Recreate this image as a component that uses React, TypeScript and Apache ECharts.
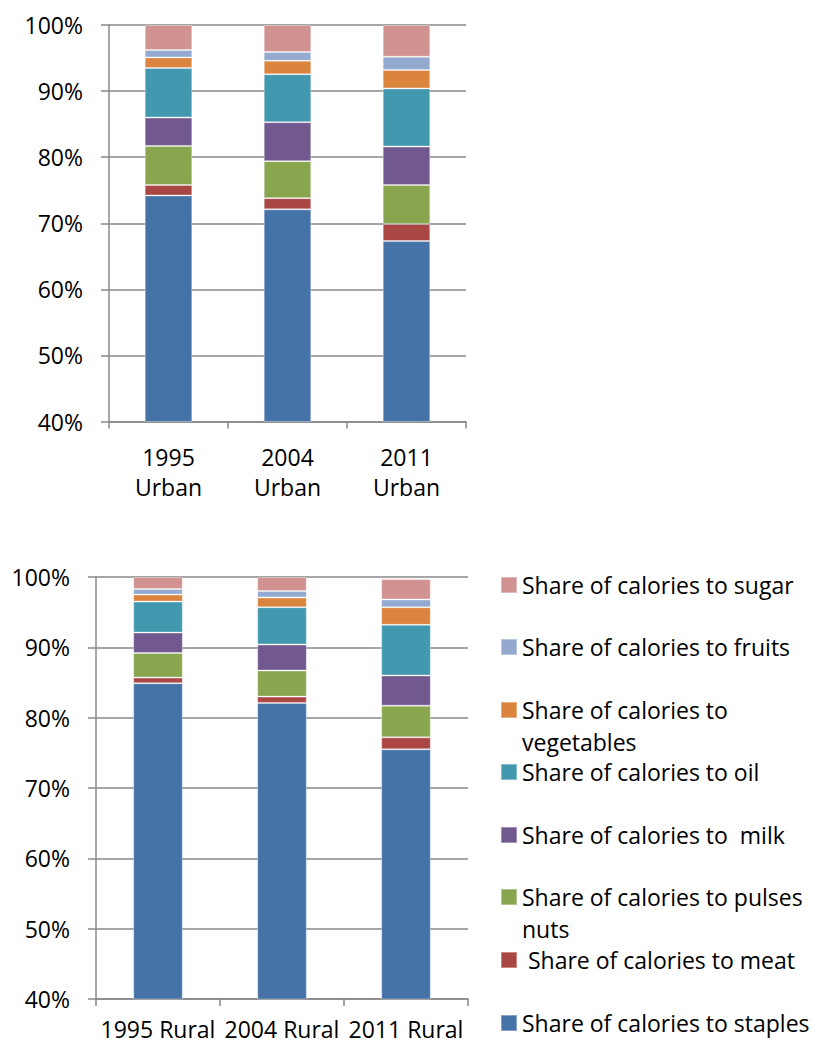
import React, { useEffect, useRef } from "react";
import * as echarts from "echarts";

// Categories
const urbanCategories = ["1995\nUrban", "2004\nUrban", "2011\nUrban"];
const ruralCategories = ["1995 Rural", "2004 Rural", "2011 Rural"];

// Series names (bottom to top of the stack)
const seriesNames = [
  "Share of calories to staples",
  " Share of calories to meat",
  "Share of calories to pulses nuts",
  "Share of calories to  milk",
  "Share of calories to oil",
  "Share of calories to vegetables",
  "Share of calories to fruits",
  "Share of calories to sugar",
];
const legendLabels = [
  "Share of calories to staples",
  " Share of calories to meat",
  "Share of calories to pulses\nnuts",
  "Share of calories to  milk",
  "Share of calories to oil",
  "Share of calories to\nvegetables",
  "Share of calories to fruits",
  "Share of calories to sugar",
];
const seriesColors = [
  "#4572A7",
  "#AA4643",
  "#89A54E",
  "#71588F",
  "#4198AF",
  "#DB843D",
  "#93A9CF",
  "#D19392",
];

// Urban values (%): 1995, 2004, 2011
const urbanStaples = [74.2, 72.1, 67.3];
const urbanMeat = [1.6, 1.7, 2.6];
const urbanPulses = [5.9, 5.6, 5.9];
const urbanMilk = [4.3, 5.9, 5.8];
const urbanOil = [7.5, 7.25, 8.8];
const urbanVegetables = [1.6, 2.05, 2.8];
const urbanFruits = [1.1, 1.3, 2.0];
const urbanSugar = [3.8, 4.1, 4.8];

// Rural values (%): 1995, 2004, 2011
const ruralStaples = [84.9, 82.1, 75.5];
const ruralMeat = [0.8, 0.9, 1.7];
const ruralPulses = [3.5, 3.7, 4.5];
const ruralMilk = [2.9, 3.7, 4.3];
const ruralOil = [4.4, 5.3, 7.2];
const ruralVegetables = [1.0, 1.4, 2.5];
const ruralFruits = [0.8, 0.9, 1.1];
const ruralSugar = [1.7, 2.0, 2.9];

// Y ticks
const yMin = 40;
const yMax = 100;
const yInterval = 10;

const urbanData = [
  urbanStaples,
  urbanMeat,
  urbanPulses,
  urbanMilk,
  urbanOil,
  urbanVegetables,
  urbanFruits,
  urbanSugar,
];
const ruralData = [
  ruralStaples,
  ruralMeat,
  ruralPulses,
  ruralMilk,
  ruralOil,
  ruralVegetables,
  ruralFruits,
  ruralSugar,
];

const FONT = "Open Sans";
const GRID_COLOR = "#888888";

export default function App() {
  const ref = useRef<HTMLDivElement>(null);

  useEffect(() => {
    if (!ref.current) return;
    const chart = echarts.init(ref.current, null, { renderer: "svg" });

    const yAxisCommon = (gridIndex: number) => ({
      type: "value",
      gridIndex,
      min: yMin,
      max: yMax,
      interval: yInterval,
      axisLine: { show: true, lineStyle: { color: GRID_COLOR, width: 1.5 } },
      axisTick: { show: true, length: 8, lineStyle: { color: GRID_COLOR, width: 1.5 } },
      splitLine: { show: true, lineStyle: { color: GRID_COLOR, width: 1.5 } },
      axisLabel: {
        formatter: "{value}%",
        fontFamily: FONT,
        fontSize: 23,
        color: "#000",
        margin: 26,
      },
    });

    const xAxisCommon = (
      gridIndex: number,
      data: string[],
      margin: number,
      lineHeight: number
    ) => ({
      type: "category",
      gridIndex,
      data,
      axisLine: { show: true, lineStyle: { color: GRID_COLOR, width: 1.5 } },
      axisTick: { show: true, length: 7, lineStyle: { color: GRID_COLOR, width: 1.5 } },
      axisLabel: {
        fontFamily: FONT,
        fontSize: 23,
        color: "#000",
        lineHeight,
        margin,
        interval: 0,
      },
    });

    const makeSeries = (data: number[][], idx: number) =>
      data.map((vals, i) => ({
        type: "bar",
        name: seriesNames[i],
        stack: "s" + idx,
        xAxisIndex: idx,
        yAxisIndex: idx,
        barWidth: "40%",
        data: vals,
        itemStyle: {
          color: seriesColors[i],
          borderColor: "rgba(255,255,255,0.35)",
          borderWidth: 1,
        },
      }));

    // legend positions: first-line centers (staples ... sugar)
    const legendCenters = [1023, 960, 897, 835, 772, 710, 647, 585];
    const legends = seriesNames.map((name, i) => {
      const multi = legendLabels[i].includes("\n");
      return {
        show: true,
        data: [name],
        left: 500,
        top: legendCenters[i] - 16,
        padding: 0,
        itemWidth: 16,
        itemHeight: multi ? 48 : 16,
        itemGap: 0,
        icon: multi ? "path://M0,0L16,0L16,16L0,16Z M0,48L0.01,48L0.01,48.01Z" : "rect",
        selectedMode: false,
        formatter: () => legendLabels[i],
        textStyle: {
          fontFamily: FONT,
          fontSize: 23,
          color: "#000",
          lineHeight: 32,
        },
      };
    });

    chart.setOption({
      animation: false,
      backgroundColor: "#fff",
      grid: [
        { left: 109, top: 25, width: 357, height: 396.5, outerBoundsMode: "none", containLabel: false },
        { left: 96, top: 577, width: 372, height: 422, outerBoundsMode: "none", containLabel: false },
      ],
      xAxis: [
        xAxisCommon(0, urbanCategories, 20, 30),
        xAxisCommon(1, ruralCategories, 17, 26),
      ],
      yAxis: [yAxisCommon(0), yAxisCommon(1)],
      legend: legends,
      series: [...makeSeries(urbanData, 0), ...makeSeries(ruralData, 1)],
    });

    return () => chart.dispose();
  }, []);

  return (
    <div
      ref={ref}
      style={{ width: 814, height: 1045, position: "absolute", left: 0, top: 0 }}
    />
  );
}
